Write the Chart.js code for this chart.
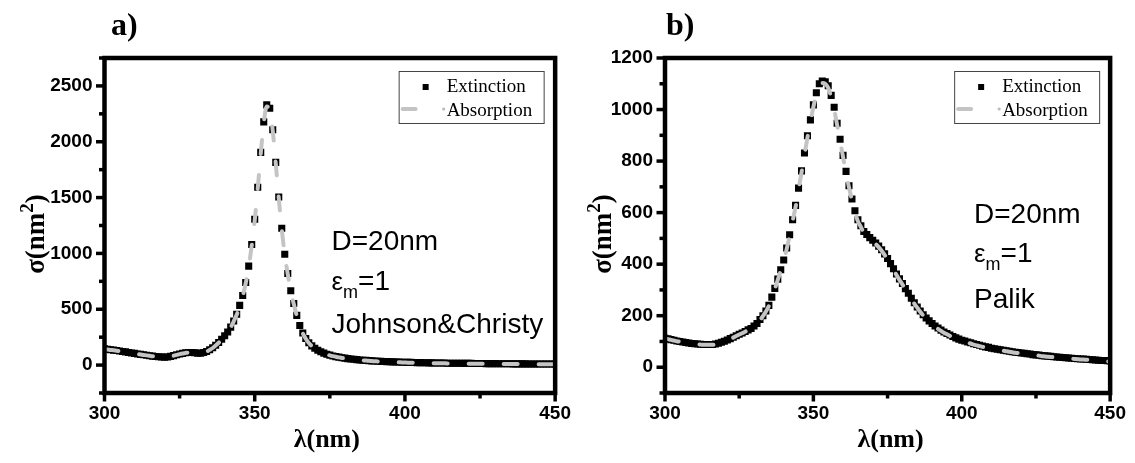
<!DOCTYPE html>
<html><head><meta charset="utf-8">
<script src="https://cdn.jsdelivr.net/npm/chart.js@4.4.1/dist/chart.umd.min.js"></script>
<style>
html,body{margin:0;padding:0;background:#fff;width:1135px;height:463px;overflow:hidden}
.wrap{position:absolute;top:0;height:463px}
#wa{left:0;width:580px}
#wb{left:560px;width:575px}
canvas{display:block}
</style></head>
<body>
<div class="wrap" id="wa"><canvas id="ca" width="580" height="463"></canvas></div>
<div class="wrap" id="wb"><canvas id="cb" width="575" height="463"></canvas></div>
<script>
// ---- data ----
const wavelengthNm = [
300,301,302,303,304,305,306,307,308,309,310,311,312,313,314,315,316,317,318,319,
320,321,322,323,324,325,326,327,328,329,330,331,332,333,334,335,336,337,338,339,
340,341,342,343,344,345,346,347,348,349,350,351,352,353,354,355,356,357,358,359,
360,361,362,363,364,365,366,367,368,369,370,371,372,373,374,375,376,377,378,379,
380,381,382,383,384,385,386,387,388,389,390,391,392,393,394,395,396,397,398,399,
400,401,402,403,404,405,406,407,408,409,410,411,412,413,414,415,416,417,418,419,
420,421,422,423,424,425,426,427,428,429,430,431,432,433,434,435,436,437,438,439,
440,441,442,443,444,445,446,447,448,449,450];

// panel a) Johnson & Christy
const extinctionA = [
145,141,138,134,130,126,122,118,113,109, 105,100,96,92,88,84,80,77,74,72,
71,73,78,85,92,99,105,110,113,113, 111,107,106,112,122,138,155,177,202,232,
262,297,340,395,455,535,623,740,886,1080, 1306,1592,1905,2178,2330,2300,2108,1815,1506,1225,
993,820,665,552,445,355,288,238,200,172, 150,133,119,107,97,89,82,76,71,66,
62,58,55,52,49,46,44,42,40,38, 36,35,33,32,31,30,29,28,27,26,
25,24,24,23,22,22,21,21,20,20, 19,19,18,18,17,17,17,16,16,16,
15,15,15,14,14,14,14,13,13,13, 13,12,12,12,12,12,11,11,11,11,
11,10,10,10,10,10,10,9,9,9, 9];
const absorptionA = [
143,140,136,133,129,125,121,117,112,108, 104,99,95,91,87,83,79,76,73,71,
70,72,77,84,91,98,104,109,112,112, 110,106,105,111,121,136,153,175,200,230,
259,294,337,391,450,530,617,733,878,1070, 1295,1580,1892,2165,2315,2290,2098,1806,1498,1218,
987,815,661,548,442,352,285,236,198,170, 148,131,117,105,95,87,80,74,69,64,
60,56,53,50,47,44,42,40,38,36, 34,33,31,30,29,28,27,26,25,24,
23,22,22,21,20,20,19,19,18,18, 17,17,16,16,15,15,15,14,14,14,
13,13,13,12,12,12,12,11,11,11, 11,10,10,10,10,10,9,9,9,9,
9,8,8,8,8,8,8,7,7,7, 7];

// panel b) Palik
const extinctionB = [
112,110,107,105,102,100,98,96,94,92, 91,90,89,88,88,88,88,90,93,97,
101,106,111,116,122,128,133,139,145,150, 160,170,185,200,218,240,272,306,342,378,
416,463,514,572,628,695,762,831,898,960, 1018,1065,1100,1111,1108,1092,1055,1009,947,885,
822,760,704,653,607,572,549,527,515,503, 493,482,470,456,440,422,402,382,362,343,
325,305,287,268,250,234,218,204,191,180, 170,160,152,144,137,131,125,119,114,109,
105,102,98,95,91,88,85,82,79,77, 74,72,70,68,66,64,62,60,58,57,
55,54,52,51,49,48,47,45,44,43, 42,41,40,39,38,37,36,35,34,33,
32,32,31,30,29,28,27,26,26,25, 24];
const absorptionB = [
111,109,106,104,101,99,97,95,93,91, 90,89,88,87,87,87,87,89,92,96,
100,105,110,115,121,127,132,138,144,149, 158,168,183,198,216,238,269,303,339,375,
412,459,509,567,622,689,755,824,891,952, 1010,1057,1092,1103,1100,1084,1047,1001,940,878,
815,754,698,648,602,567,544,523,511,499, 489,478,466,452,436,418,398,378,358,339,
321,302,284,265,247,231,215,201,188,177, 167,157,149,141,134,128,122,116,111,106,
102,99,95,92,88,85,82,79,77,75, 72,70,68,66,64,62,60,58,56,55,
53,52,50,49,47,46,45,43,42,41, 40,39,38,37,36,35,34,33,32,31,
30,30,29,28,27,26,25,24,24,23, 22];

const xTickLabels = [300, 350, 400, 450];
const yTickLabelsA = [0, 500, 1000, 1500, 2000, 2500];
const yTickLabelsB = [0, 200, 400, 600, 800, 1000, 1200];
const seriesNames = ['Extinction', 'Absorption'];

// ---- drawing helpers ----
const SANS = '"Liberation Sans", Arial, sans-serif';
const SERIF = '"Liberation Serif", "Times New Roman", serif';

function pts(xs, ys) { return xs.map((x, i) => ({x: x, y: ys[i]})); }

function framePlugin(cfg) {
  return {
    id: 'frame_' + cfg.id,
    afterDraw(chart) {
      const ctx = chart.ctx;
      const a = chart.chartArea;
      const xs = chart.scales.x, ys = chart.scales.y;
      ctx.save();
      ctx.setLineDash([]);
      // frame
      ctx.strokeStyle = '#000';
      ctx.lineWidth = 4.5;
      ctx.strokeRect(a.left, a.top, a.right - a.left, a.bottom - a.top);
      // ticks
      ctx.lineWidth = 3.5;
      ctx.lineCap = 'butt';
      xs.ticks.forEach(t => {
        const px = xs.getPixelForValue(t.value);
        const major = xTickLabels.includes(t.value);
        ctx.beginPath();
        ctx.moveTo(px, a.bottom);
        ctx.lineTo(px, a.bottom + (major ? 8.5 : 5.5));
        ctx.stroke();
      });
      ys.ticks.forEach(t => {
        const py = ys.getPixelForValue(t.value);
        const major = cfg.yLabels.includes(t.value);
        ctx.beginPath();
        ctx.moveTo(a.left, py);
        ctx.lineTo(a.left - (major ? 8.5 : 5.5), py);
        ctx.stroke();
      });
      // panel label
      ctx.fillStyle = '#000';
      ctx.font = 'bold 32px ' + SERIF;
      ctx.textBaseline = 'alphabetic';
      ctx.textAlign = 'left';
      ctx.fillText(cfg.panel, a.left + cfg.panelDx, 35);
      // x title
      ctx.font = 'bold 26px ' + SERIF;
      ctx.textAlign = 'center';
      ctx.fillText('\u03BB(nm)', (a.left + a.right) / 2 + cfg.xTitleDx, 447);
      // y title (rotated, with superscript)
      ctx.save();
      ctx.translate(a.left - cfg.yTitleBase, 234);
      ctx.rotate(-Math.PI / 2);
      const f1 = 'bold 27px ' + SERIF, f2 = 'bold 19px ' + SERIF;
      ctx.font = f1; const w1 = ctx.measureText('\u03C3(nm').width; const w3 = ctx.measureText(')').width;
      ctx.font = f2; const w2 = ctx.measureText('2').width;
      let x0 = -(w1 + w2 + w3) / 2;
      ctx.textAlign = 'left';
      ctx.font = f1; ctx.fillText('\u03C3(nm', x0, 0);
      ctx.font = f2; ctx.fillText('2', x0 + w1, -11);
      ctx.font = f1; ctx.fillText(')', x0 + w1 + w2, 0);
      ctx.restore();
      // annotation
      const ax = a.left + cfg.noteDx;
      ctx.textAlign = 'left';
      ctx.font = '28px ' + SANS;
      ctx.fillText('D=20nm', ax, cfg.noteY[0]);
      ctx.font = '26px ' + SANS;
      ctx.fillText('\u03B5', ax, cfg.noteY[1]);
      const we = ctx.measureText('\u03B5').width;
      ctx.font = '18px ' + SANS;
      ctx.fillText('m', ax + we, cfg.noteY[1] + 8);
      const wm = ctx.measureText('m').width;
      ctx.font = '28px ' + SANS;
      ctx.fillText('=1', ax + we + wm, cfg.noteY[1]);
      ctx.fillText(cfg.source, ax, cfg.noteY[2]);
      // legend
      const bw = 145, bh = 52;
      const bx = a.right - cfg.legRight - bw, by = a.top + 13;
      ctx.fillStyle = '#fff';
      ctx.fillRect(bx, by, bw, bh);
      ctx.strokeStyle = '#444';
      ctx.lineWidth = 1;
      ctx.strokeRect(bx + 0.5, by + 0.5, bw, bh);
      ctx.fillStyle = '#000';
      ctx.fillRect(bx + 24, by + 13, 6, 6);
      ctx.font = '19px ' + SERIF;
      ctx.fillText(seriesNames[0], bx + 48, by + 21);
      ctx.strokeStyle = '#c4c4c4';
      ctx.lineWidth = 4;
      ctx.lineCap = 'round';
      ctx.beginPath(); ctx.moveTo(bx + 4, by + 38); ctx.lineTo(bx + 17, by + 38); ctx.stroke();
      ctx.fillStyle = '#bbb';
      ctx.beginPath(); ctx.arc(bx + 45, by + 38, 1.6, 0, Math.PI * 2); ctx.fill();
      ctx.fillStyle = '#000';
      ctx.fillText(seriesNames[1], bx + 48, by + 45);
      ctx.restore();
    }
  };
}

function makeChart(canvasId, cfg) {
  return new Chart(document.getElementById(canvasId), {
    type: 'scatter',
    data: {
      datasets: [
        { label: seriesNames[0], data: pts(wavelengthNm, cfg.ext), showLine: false,
          pointStyle: 'rect', pointRadius: 5, pointHoverRadius: 5,
          backgroundColor: '#000', borderColor: '#000', borderWidth: 0, order: 2 },
        { label: seriesNames[1], data: pts(wavelengthNm, cfg.abs), showLine: true,
          pointRadius: 0, pointHoverRadius: 0, borderColor: '#c4c4c4', borderWidth: 4,
          borderDash: [14, 21], borderCapStyle: 'round', cubicInterpolationMode: 'monotone',
          fill: false, order: 1 }
      ]
    },
    options: {
      responsive: false, animation: false, events: [],
      layout: { autoPadding: false, padding: { left: cfg.padLeft, right: cfg.padRight, top: 58, bottom: 0 } },
      plugins: { legend: { display: false }, tooltip: { enabled: false } },
      scales: {
        x: { type: 'linear', min: 300, max: 450,
             afterFit: s => { s.height = 70; },
             grid: { display: false, drawTicks: false }, border: { display: false },
             ticks: { stepSize: 25, autoSkip: false, maxRotation: 0, padding: 9, color: '#000',
                      font: { family: SANS, size: 19, weight: 'bold' },
                      callback: v => xTickLabels.includes(v) ? String(v) : '' } },
        y: { type: 'linear', min: cfg.yMin, max: cfg.yMax,
             afterFit: s => { s.width = cfg.yWidth; },
             grid: { display: false, drawTicks: false }, border: { display: false },
             ticks: { stepSize: cfg.yStep, autoSkip: false, padding: 12, color: '#000',
                      font: { family: SANS, size: 19, weight: 'bold' },
                      callback: v => cfg.yLabels.includes(v) ? String(v) : '' } }
      }
    },
    plugins: [framePlugin(cfg)]
  });
}

makeChart('ca', {
  id: 'a', ext: extinctionA, abs: absorptionA, yMin: -250, yMax: 2750, yStep: 250,
  yLabels: yTickLabelsA, yWidth: 104.5, padLeft: 0, padRight: 24,
  panel: 'a)', panelDx: 6.5, xTitleDx: -3, yTitleBase: 60.5,
  noteDx: 227, noteY: [250, 290, 333], source: 'Johnson&Christy', legRight: 11.5
});
makeChart('cb', {
  id: 'b', ext: extinctionB, abs: absorptionB, yMin: -100, yMax: 1200, yStep: 100,
  yLabels: yTickLabelsB, yWidth: 105, padLeft: 0, padRight: 19,
  panel: 'b)', panelDx: 1, xTitleDx: 3, yTitleBase: 54,
  noteDx: 309, noteY: [223, 262, 308], source: 'Palik', legRight: 11
});
</script>
</body></html>
